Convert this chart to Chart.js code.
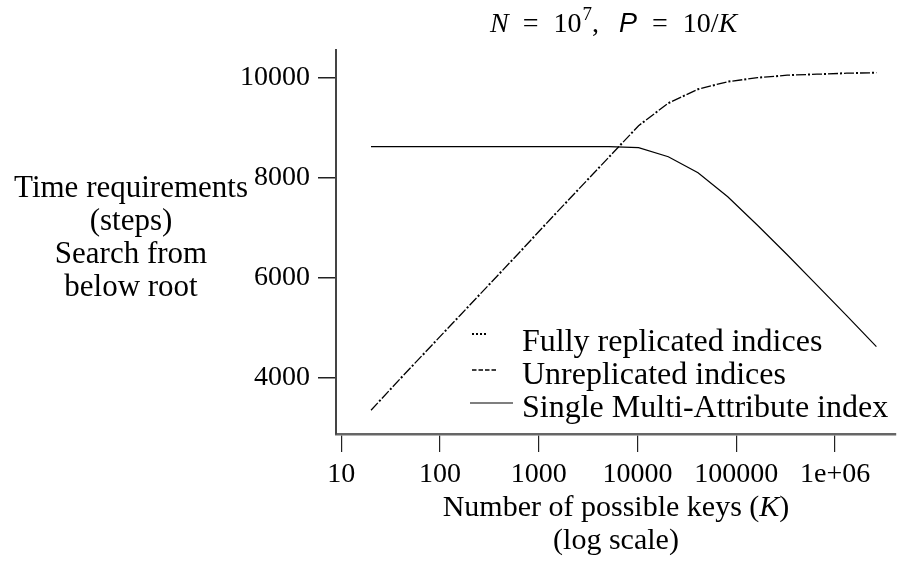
<!DOCTYPE html>
<html>
<head>
<meta charset="utf-8">
<title>Time requirements vs number of possible keys</title>
<script src="https://cdn.jsdelivr.net/npm/chart.js@4.4.1/dist/chart.umd.min.js"></script>
<style>
    html, body { margin: 0; padding: 0; background: #fff; }
    #wrap { width: 904px; height: 562px; }
</style>
</head>
<body>
<div id="wrap"><canvas id="chart" width="904" height="562"></canvas></div>
<script>
// ─── Values (K doubles from 20) ──────────────────────────────────────────────
const keys = [20, 40, 80, 160, 320, 640, 1280, 2560, 5120, 10240,
              20480, 40960, 81920, 163840, 327680, 655360, 1310720, 2621440];
const fullyReplicated = [3350, 3990, 4620, 5250, 5880, 6510, 7150, 7780, 8410, 9040,
                         9490, 9770, 9920, 10000, 10050, 10070, 10090, 10100];
const unreplicated = [3350, 3990, 4620, 5250, 5880, 6510, 7150, 7780, 8410, 9040,
                      9490, 9770, 9920, 10000, 10050, 10070, 10090, 10100];
const singleIndex = [8620, 8620, 8620, 8620, 8620, 8620, 8620, 8620, 8620, 8600,
                     8420, 8100, 7620, 7050, 6460, 5850, 5240, 4620];

const seriesNames = ['Fully replicated indices', 'Unreplicated indices', 'Single Multi-Attribute index'];
const xTickValues = [10, 100, 1000, 10000, 100000, 1000000];
const xTickLabels = ['10', '100', '1000', '10000', '100000', '1e+06'];
const yTickValues = [4000, 6000, 8000, 10000];
const yTitleLines = ['Time requirements', '(steps)', 'Search from', 'below root'];

const SERIF = "'Liberation Serif', 'Times New Roman', serif";
const SANS = "'Liberation Sans', Arial, sans-serif";

function toPoints(values) {
    return keys.map(function (k, i) { return { x: k, y: values[i] }; });
}

// ─── Titles, axis captions and the in-plot legend ────────────────────────────
// each run: text, font, optional vertical shift and extra gap after it
function drawRuns(ctx, runs, x, y) {
    runs.forEach(function (r) {
        ctx.font = r.font;
        ctx.fillText(r.text, x, y + (r.dy || 0));
        x += ctx.measureText(r.text).width + (r.gap || 0);
    });
}
function runsWidth(ctx, runs) {
    return runs.reduce(function (w, r) {
        ctx.font = r.font;
        return w + ctx.measureText(r.text).width + (r.gap || 0);
    }, 0);
}

const annotations = {
    id: 'annotations',
    afterDraw(chart) {
        const ctx = chart.ctx;
        const area = chart.chartArea;
        ctx.save();
        ctx.fillStyle = '#000';
        ctx.textAlign = 'left';
        ctx.textBaseline = 'alphabetic';

        // title  N = 10^7,  P = 10/K
        drawRuns(ctx, [
            { text: 'N', font: 'italic 28px ' + SERIF, gap: 14 },
            { text: '=', font: '28px ' + SERIF, gap: 15 },
            { text: '10', font: '28px ' + SERIF, gap: 1 },
            { text: '7', font: '19px ' + SERIF, dy: -12 },
            { text: ',', font: '28px ' + SERIF, gap: 20 },
            { text: 'P', font: 'italic 27px ' + SANS, gap: 15 },
            { text: '=', font: '28px ' + SERIF, gap: 15 },
            { text: '10/', font: '28px ' + SERIF },
            { text: 'K', font: 'italic 28px ' + SERIF }
        ], 490, 32);

        // y caption
        ctx.textAlign = 'center';
        ctx.textBaseline = 'middle';
        ctx.font = '31px ' + SERIF;
        yTitleLines.forEach(function (line, i) {
            ctx.fillText(line, 131, 189 + i * 33);
        });

        // x caption
        const xRuns = [
            { text: 'Number of possible keys (', font: '30px ' + SERIF },
            { text: 'K', font: 'italic 30px ' + SERIF },
            { text: ')', font: '30px ' + SERIF }
        ];
        const cx = (area.left + area.right) / 2;
        ctx.textAlign = 'left';
        drawRuns(ctx, xRuns, cx - runsWidth(ctx, xRuns) / 2, 508);
        ctx.textAlign = 'center';
        ctx.font = '30px ' + SERIF;
        ctx.fillText('(log scale)', cx, 541);

        // legend
        const samples = [
            { x0: 472, x1: 486, y: 334, dash: [2, 2], width: 2 },
            { x0: 472, x1: 496, y: 370, dash: [4.5, 2], width: 1.3 },
            { x0: 470, x1: 513, y: 403, dash: [], width: 1.2 }
        ];
        ctx.textAlign = 'left';
        ctx.textBaseline = 'alphabetic';
        ctx.font = '32px ' + SERIF;
        seriesNames.forEach(function (name, i) {
            const s = samples[i];
            ctx.beginPath();
            ctx.setLineDash(s.dash);
            ctx.lineWidth = s.width;
            ctx.strokeStyle = '#000';
            ctx.moveTo(s.x0, s.y);
            ctx.lineTo(s.x1, s.y);
            ctx.stroke();
            ctx.fillText(name, 522, 351 + i * 33);
        });
        ctx.restore();
    }
};

new Chart(document.getElementById('chart'), {
    type: 'line',
    data: {
        datasets: [
            {
                label: seriesNames[0],
                data: toPoints(fullyReplicated),
                borderColor: '#000',
                borderWidth: 2,
                borderDash: [2, 14],
                borderDashOffset: 4,
                pointRadius: 0,
                tension: 0
            },
            {
                label: seriesNames[1],
                data: toPoints(unreplicated),
                borderColor: '#000',
                borderWidth: 1.3,
                borderDash: [10, 6],
                pointRadius: 0,
                tension: 0
            },
            {
                label: seriesNames[2],
                data: toPoints(singleIndex),
                borderColor: '#000',
                borderWidth: 1.2,
                pointRadius: 0,
                tension: 0
            }
        ]
    },
    options: {
        responsive: false,
        animation: false,
        devicePixelRatio: 1,
        layout: { padding: { top: 50, right: 8, left: 0, bottom: 0 } },
        plugins: {
            legend: { display: false },
            title: { display: false },
            tooltip: { enabled: false }
        },
        scales: {
            x: {
                type: 'logarithmic',
                min: 8.84,
                max: 4.14e6,
                afterBuildTicks: function (scale) {
                    scale.ticks = xTickValues.map(function (v) { return { value: v }; });
                },
                afterFit: function (scale) { scale.height = 128; },
                ticks: {
                    autoSkip: false,
                    maxRotation: 0,
                    padding: 6,
                    color: '#000',
                    font: { family: SERIF, size: 28 },
                    callback: function (value) {
                        const i = xTickValues.indexOf(value);
                        return i >= 0 ? xTickLabels[i] : '';
                    }
                },
                grid: {
                    display: true,
                    drawOnChartArea: false,
                    drawTicks: true,
                    tickLength: 18,
                    color: '#222',
                    lineWidth: 1.2
                },
                border: { display: true, color: '#666', width: 2.5 }
            },
            y: {
                type: 'linear',
                min: 2874,
                max: 10554,
                afterBuildTicks: function (scale) {
                    scale.ticks = yTickValues.map(function (v) { return { value: v }; });
                },
                afterFit: function (scale) { scale.width = 336; },
                ticks: {
                    padding: 8,
                    color: '#000',
                    font: { family: SERIF, size: 28 },
                    callback: function (value) { return String(value); }
                },
                grid: {
                    display: true,
                    drawOnChartArea: false,
                    drawTicks: true,
                    tickLength: 18,
                    color: '#222',
                    lineWidth: 1.5
                },
                border: { display: true, color: '#444', width: 2 }
            }
        }
    },
    plugins: [annotations]
});
</script>
</body>
</html>
